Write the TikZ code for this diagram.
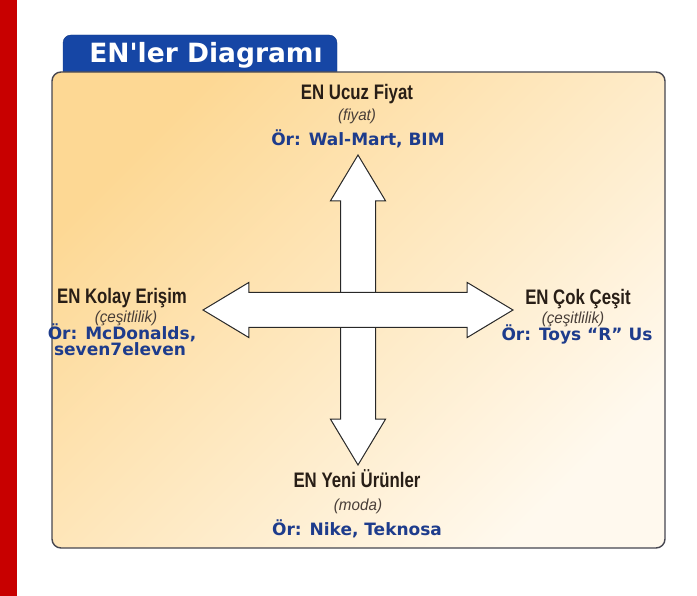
\documentclass[tikz,border=0pt]{standalone}
\usepackage{fontspec}
\usepackage{tikz}
\usetikzlibrary{shapes.arrows}
\setmainfont{Liberation Sans}
\newfontfamily\cfCond[FakeStretch=0.8]{Liberation Sans}
\newfontfamily\cfSlim[FakeStretch=0.95]{Liberation Sans}
\newfontfamily\cfHeavy{DejaVu Sans}
\definecolor{cfred}{RGB}{200,0,0}
\definecolor{cftab}{RGB}{22,70,165}
\definecolor{cfink}{RGB}{40,30,22}
\definecolor{cfsub}{RGB}{72,62,56}
\definecolor{cfblue}{RGB}{30,60,140}
\definecolor{cfline}{RGB}{70,70,80}
\definecolor{cfpeach}{RGB}{253,216,148}
\definecolor{cfcream}{RGB}{255,249,238}
\definecolor{cfarrow}{RGB}{40,40,40}
\tikzset{
  cfFrame/.style={draw=cfline, line width=1.4pt, rounded corners=9pt,
                  top color=cfpeach, bottom color=cfcream, shading angle=45},
  cfTab/.style={fill=cftab, draw=cftab!80!black, rounded corners=8pt},
  cfWay/.style={double arrow, draw=cfarrow, line width=1pt, fill=white,
                minimum height=310pt, minimum width=54pt,
                inner xsep=0pt, inner ysep=17pt,
                double arrow head extend=10pt, double arrow tip angle=62},
  cfHead/.style={font=\cfCond\bfseries\fontsize{21}{23}\selectfont,
                 text=cfink, anchor=base, inner sep=0pt},
  cfSub/.style={font=\cfSlim\itshape\fontsize{16}{18}\selectfont,
                text=cfsub, anchor=base, inner sep=0pt},
  cfEx/.style={font=\cfHeavy\bfseries\fontsize{17}{19}\selectfont,
               text=cfblue, anchor=base, inner sep=0pt}
}
\begin{document}
\begin{tikzpicture}[x=1pt,y=-1pt]
  \useasboundingbox (0,0) rectangle (697,596);
  \fill[cfred] (0,0) rectangle (17,596);

  % title tab and frame
  \path[cfTab] (63,74) -- (63,35) -- (337,35) -- (337,74);
  \node[font=\cfHeavy\bfseries\fontsize{26.5}{28}\selectfont, text=white,
        anchor=base] (title) at (206,63) {EN'ler Diagramı};
  \path[cfFrame] (52,72) rectangle (665,548);

  % the two ways
  \node[cfWay, rotate=90] (waysV) at (358,310) {};
  \node[cfWay] (waysH) at (358,310) {};

  % top
  \node[cfHead] (cheapHead) at (357,100) {EN Ucuz Fiyat};
  \node[cfSub] (cheapSub) at (357,121) {(fiyat)};
  \node[cfEx] (cheapEx) at (358,146) {Ör: Wal-Mart, BIM};

  % left
  \node[cfHead] (easyHead) at (122,304) {EN Kolay Erişim};
  \node[cfSub] (easySub) at (126,323) {(çeşitlilik)};
  \node[cfEx] (easyEx) at (122,340) {Ör: McDonalds,};
  \node[cfEx] (easyEx2) at (120,356) {seven7eleven};

  % right
  \node[cfHead] (rangeHead) at (578,305) {EN Çok Çeşit};
  \node[cfSub] (rangeSub) at (573,324) {(çeşitlilik)};
  \node[cfEx] (rangeEx) at (577,341) {Ör: Toys “R” Us};

  % bottom
  \node[cfHead] (newHead) at (357,487) {EN Yeni Ürünler};
  \node[cfSub] (newSub) at (358,510) {(moda)};
  \node[cfEx] (newEx) at (357,535) {Ör: Nike, Teknosa};
\end{tikzpicture}
\end{document}
